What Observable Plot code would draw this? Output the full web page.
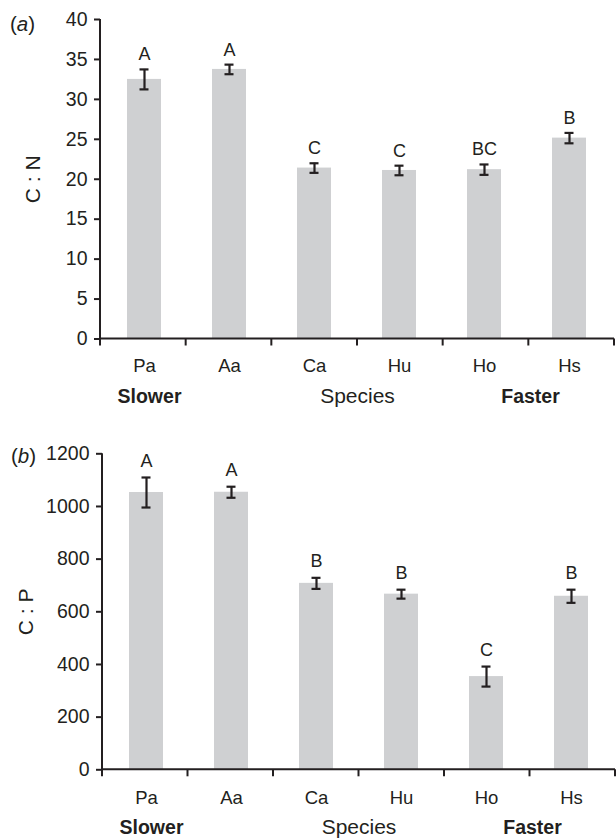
<!DOCTYPE html>
<html>
<head>
<meta charset="utf-8">
<script src="https://cdn.jsdelivr.net/npm/d3@7"></script>
<script src="https://cdn.jsdelivr.net/npm/@observablehq/plot@0.6"></script>
<style>
  body { margin: 0; background: #fff; }
  #chart { width: 616px; height: 838px; }
  #chart svg { display: block; overflow: visible; }
</style>
</head>
<body>
<div id="chart"></div>
<script>
// ---- data ----
const species = ["Pa", "Aa", "Ca", "Hu", "Ho", "Hs"];
const groupLabels = ["Slower", "Species", "Faster"];

const cnMean = [32.5, 33.75, 21.4, 21.1, 21.2, 25.15];
const cnSE = [1.25, 0.6, 0.6, 0.6, 0.65, 0.65];
const cnLetters = ["A", "A", "C", "C", "BC", "B"];
const cnTicks = [0, 5, 10, 15, 20, 25, 30, 35, 40];

const cpMean = [1053, 1054, 708, 667, 354, 659];
const cpSE = [57, 21, 21, 17, 38, 25];
const cpLetters = ["A", "A", "B", "B", "C", "B"];
const cpTicks = [0, 200, 400, 600, 800, 1000, 1200];

// ---- style ----
const ink = "#231f20";
const barFill = "#cfd0d2";
const font = "Liberation Sans, Arial, Helvetica, sans-serif";

function frameMark(tickLen) {
  return (index, scales, values, dim) => {
    const g = d3.create("svg:g").attr("stroke", ink).attr("stroke-width", 2).attr("fill", "none");
    const x0 = dim.marginLeft, x1 = dim.width - dim.marginRight;
    const yb = dim.height - dim.marginBottom, yt = dim.marginTop;
    g.append("line").attr("x1", x0).attr("x2", x0).attr("y1", yt).attr("y2", yb);
    g.append("line").attr("x1", x0).attr("x2", x1).attr("y1", yb).attr("y2", yb);
    const n = scales.x.domain().length;
    const step = (x1 - x0) / n;
    for (let i = 0; i <= n; i++) {
      const x = x0 + i * step;
      g.append("line").attr("x1", x).attr("x2", x).attr("y1", yb).attr("y2", yb + tickLen);
    }
    return g.node();
  };
}

function panel(opts) {
  const {means, ses, letters, ticks, yLabel, tag, height, mt, mb, ml, mr,
         tickPad, labelDx, tagDx, tagDy, letterDy} = opts;
  const data = species.map((s, i) => ({sp: s, m: means[i], se: ses[i], letter: letters[i]}));
  const yMax = ticks[ticks.length - 1];
  const svg = Plot.plot({
    width: 616,
    height,
    marginTop: mt,
    marginBottom: mb,
    marginLeft: ml,
    marginRight: mr,
    style: {fontFamily: font, fontSize: "18px", color: ink, background: "#fff", overflow: "visible"},
    x: {domain: species, paddingInner: 0.6, paddingOuter: 0.3, axis: null},
    y: {domain: [0, yMax], axis: null},
    marks: [
      Plot.barY(data, {x: "sp", y: "m", fill: barFill}),
      Plot.ruleX(data, {x: "sp", y1: d => d.m - d.se, y2: d => d.m + d.se, stroke: ink, strokeWidth: 2.2}),
      Plot.tickY(data, {x: "sp", y: d => d.m + d.se, stroke: ink, strokeWidth: 2.2, insetLeft: 12.5, insetRight: 12.5}),
      Plot.tickY(data, {x: "sp", y: d => d.m - d.se, stroke: ink, strokeWidth: 2.2, insetLeft: 12.5, insetRight: 12.5}),
      Plot.text(data, {x: "sp", y: d => d.m + d.se, text: "letter", dy: letterDy, lineAnchor: "bottom",
                       fill: ink, fontSize: 18}),
      Plot.axisY({ticks, tickSize: 6, tickPadding: 7, tickFormat: d => String(d), label: null,
                  stroke: ink, strokeWidth: 2, fill: ink, fontSize: 19.5}),
      Plot.axisX({tickSize: 0, tickPadding: tickPad, label: null, fill: ink, fontSize: 18.5}),
      frameMark(7),
      Plot.text([yLabel], {frameAnchor: "left", rotate: -90, dx: labelDx, textAnchor: "middle",
                           lineAnchor: "middle", fill: ink, fontSize: 21}),
      Plot.text([tag], {frameAnchor: "top-left", dx: tagDx, dy: tagDy, textAnchor: "middle",
                        lineAnchor: "middle", fill: ink, fontSize: 20.5}),
      Plot.text([groupLabels[1]], {frameAnchor: "bottom", dy: 64, lineAnchor: "bottom",
                                   fill: ink, fontSize: 21}),
      Plot.text([groupLabels[0]], {x: () => species[0], frameAnchor: "bottom", dy: 64, dx: 5,
                                   lineAnchor: "bottom", fill: ink, fontSize: 19.5, fontWeight: "bold"}),
      Plot.text([groupLabels[2]], {x: () => species[5], frameAnchor: "bottom", dy: 64, dx: -39,
                                   lineAnchor: "bottom", fill: ink, fontSize: 19.5, fontWeight: "bold"})
    ]
  });
  d3.select(svg).selectAll("text").filter(function () { return this.textContent === tag; })
    .each(function () {
      const t = d3.select(this);
      t.text(null);
      t.append("tspan").text("(");
      t.append("tspan").attr("font-style", "italic").text(tag.slice(1, -1));
      t.append("tspan").text(")");
    });
  return svg;
}

const panelA = panel({
  means: cnMean, ses: cnSE, letters: cnLetters, ticks: cnTicks,
  yLabel: "C : N", tag: "(a)", height: 410, mt: 19, mb: 71.5, ml: 100, mr: 2,
  tickPad: 19.5, labelDx: -67, tagDx: -78, tagDy: 4.5, letterDy: -9
});
const panelB = panel({
  means: cpMean, ses: cpSE, letters: cpLetters, ticks: cpTicks,
  yLabel: "C : P", tag: "(b)", height: 428, mt: 43.3, mb: 68.7, ml: 102, mr: 1,
  tickPad: 21, labelDx: -76, tagDx: -79, tagDy: 3, letterDy: -11
});
document.getElementById("chart").append(panelA, panelB);
</script>
</body>
</html>
